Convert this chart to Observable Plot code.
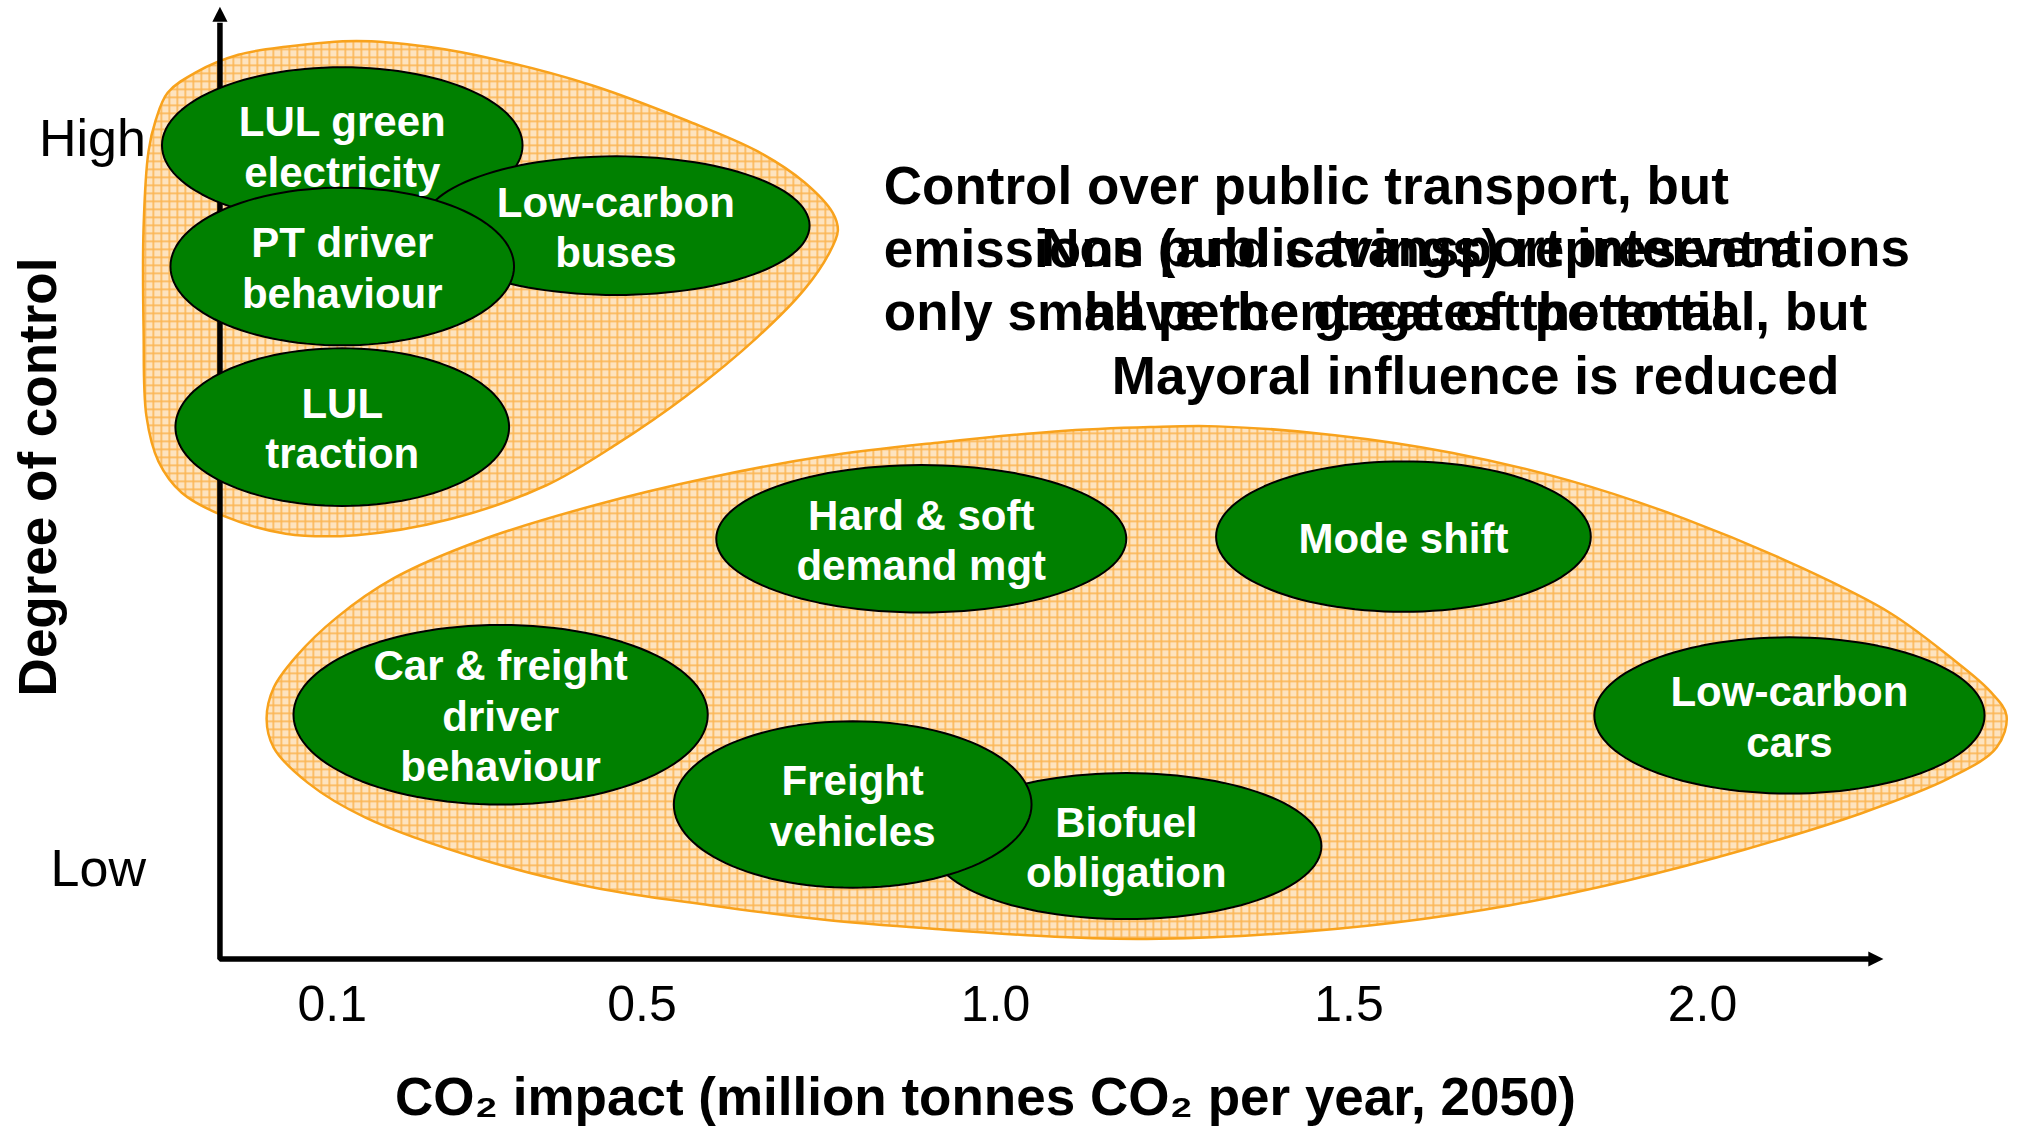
<!DOCTYPE html>
<html>
<head>
<meta charset="utf-8">
<script src="https://cdn.jsdelivr.net/npm/d3@7"></script>
<script src="https://cdn.jsdelivr.net/npm/@observablehq/plot@0.6"></script>
<style>
  html, body { margin: 0; padding: 0; background: #ffffff; }
  #chart { width: 2018px; height: 1129px; overflow: hidden; }
</style>
</head>
<body>
<svg width="0" height="0" style="position:absolute">
  <defs>
    <pattern id="hatch" width="8" height="8" patternUnits="userSpaceOnUse">
      <rect width="8" height="8" fill="#fde3bf"></rect>
      <rect width="8" height="1.6" fill="#fbb553"></rect>
      <rect width="1.6" height="8" fill="#fbb553"></rect>
    </pattern>
  </defs>
</svg>
<div id="chart"></div>
<script>
// ---------- data ----------
const measures = [
  "LUL green\nelectricity",
  "Low-carbon\nbuses",
  "PT driver\nbehaviour",
  "LUL\ntraction",
  "Hard & soft\ndemand mgt",
  "Mode shift",
  "Car & freight\ndriver\nbehaviour",
  "Biofuel\nobligation",
  "Freight\nvehicles",
  "Low-carbon\ncars"
];
// centre of each bubble: CO2 impact (Mt CO2 / yr, 2050) and degree of control (Low = 0, High = 10)
const co2Impact    = [0.076, 0.463, 0.076, 0.076, 0.895, 1.577, 0.300, 1.185, 0.798, 2.123];
const controlLevel = [9.92, 8.82, 8.26, 6.06, 4.53, 4.56, 2.12, 0.32, 0.89, 2.11];
// half-extent of each bubble along each axis
const co2Spread     = [0.255, 0.274, 0.243, 0.236, 0.290, 0.265, 0.293, 0.276, 0.253, 0.276];
const controlSpread = [1.07, 0.95, 1.08, 1.08, 1.01, 1.03, 1.23, 1.00, 1.14, 1.07];

const xTickValues = [0.1, 0.5, 1.0, 1.5, 2.0];
const xTickLabels = ["0.1", "0.5", "1.0", "1.5", "2.0"];
const yTickValues = [10, 0];
const yTickLabels = ["High", "Low"];

// outline of the "public transport" zone [co2, control]
const publicTransportZone = [
  [-0.188, 10.26], [-0.171, 10.64], [-0.131, 10.92], [-0.071, 11.16], [-0.004, 11.27],
  [0.096, 11.35], [0.197, 11.27], [0.296, 11.09], [0.430, 10.74], [0.563, 10.26],
  [0.663, 9.84], [0.730, 9.41], [0.770, 8.99], [0.777, 8.75], [0.764, 8.43],
  [0.730, 7.95], [0.663, 7.29], [0.563, 6.49], [0.463, 5.82], [0.364, 5.26],
  [0.229, 4.80], [0.096, 4.58], [-0.004, 4.60], [-0.091, 4.84], [-0.151, 5.16],
  [-0.184, 5.59], [-0.201, 6.21], [-0.205, 7.38], [-0.205, 8.80], [-0.198, 9.84]
];
// outline of the "non public transport" zone [co2, control]
const otherZone = [
  [-0.031, 2.06], [-0.021, 2.49], [0.011, 2.92], [0.068, 3.45], [0.149, 3.99],
  [0.272, 4.51], [0.433, 4.99], [0.596, 5.37], [0.758, 5.66], [0.921, 5.85],
  [1.084, 6.00], [1.219, 6.06], [1.314, 6.07], [1.480, 5.95], [1.645, 5.71],
  [1.811, 5.33], [1.976, 4.80], [2.143, 4.12], [2.266, 3.51], [2.349, 2.92],
  [2.407, 2.44], [2.430, 2.11], [2.416, 1.67], [2.349, 1.25], [2.225, 0.77],
  [2.059, 0.27], [1.894, -0.15], [1.728, -0.49], [1.563, -0.73], [1.398, -0.88],
  [1.232, -0.95], [1.084, -0.92], [0.921, -0.82], [0.758, -0.69], [0.596, -0.49],
  [0.433, -0.25], [0.272, 0.14], [0.109, 0.71], [0.027, 1.19], [-0.021, 1.67]
];

const noteLeft = {
  text: "Control over public transport, but\nemissions (and savings) represent a\nonly small percentage of the total",
  co2: 0.842, control: 8.53
};
const noteRight = {
  text: "Non public transport interventions\nhave the greatest potential, but\nMayoral influence is reduced",
  co2: 1.679, control: 7.67
};

const xTitle = "CO\u2082 impact (million tonnes CO\u2082 per year, 2050)";
const yTitle = "Degree of control";

// axis frame in data units
const axisX0 = -0.097, axisY0 = -1.226;
const axisXTip = 2.256, axisYTip = 11.82;
const axisXShaft = 2.236, axisYShaft = 11.60;

// ---------- derived ----------
const N = 120;
const ellipsePoints = measures.flatMap((m, i) =>
  d3.range(N).map(k => {
    const a = 2 * Math.PI * k / N;
    return { m, x: co2Impact[i] + co2Spread[i] * Math.cos(a), y: controlLevel[i] + controlSpread[i] * Math.sin(a) };
  })
);

const arrowUp = {
  draw(ctx, size) {
    const r = Math.sqrt(size / Math.PI), h = 2.3 * r, w = 1.15 * r;
    ctx.moveTo(0, 0); ctx.lineTo(-w, h); ctx.lineTo(w, h); ctx.closePath();
  }
};
const arrowRight = {
  draw(ctx, size) {
    const r = Math.sqrt(size / Math.PI), h = 2.3 * r, w = 1.15 * r;
    ctx.moveTo(0, 0); ctx.lineTo(-h, -w); ctx.lineTo(-h, w); ctx.closePath();
  }
};

const FONT = "'Liberation Sans', Arial, Helvetica, sans-serif";

const chart = Plot.plot({
  width: 2018,
  height: 1129,
  margin: 0,
  x: { domain: [-0.4074, 2.447], axis: null },
  y: { domain: [-3.562, 11.904], axis: null },
  style: { fontFamily: FONT, background: "#ffffff", overflow: "visible" },
  marks: [
    Plot.line(publicTransportZone, { x: d => d[0], y: d => d[1], curve: "catmull-rom-closed", fill: "url(#hatch)", stroke: "#f8a21c", strokeWidth: 2.5 }),
    Plot.line(otherZone, { x: d => d[0], y: d => d[1], curve: "catmull-rom-closed", fill: "url(#hatch)", stroke: "#f8a21c", strokeWidth: 2.5 }),
    // axes
    Plot.line([[axisX0, axisYShaft], [axisX0, axisY0], [axisXShaft, axisY0]], {
      x: d => d[0], y: d => d[1], stroke: "black", strokeWidth: 5.5, strokeLinejoin: "miter", strokeLinecap: "butt"
    }),
    Plot.dot([[axisX0, axisYTip]], { x: d => d[0], y: d => d[1], symbol: arrowUp, r: 6.6, fill: "black", stroke: "none" }),
    Plot.dot([[axisXTip, axisY0]], { x: d => d[0], y: d => d[1], symbol: arrowRight, r: 6.6, fill: "black", stroke: "none" }),
    // bubbles
    Plot.line(ellipsePoints, { x: "x", y: "y", z: "m", curve: "linear-closed", fill: "#008000", stroke: "black", strokeWidth: 2 }),
    Plot.text(measures, {
      x: (d, i) => co2Impact[i], y: (d, i) => controlLevel[i], text: d => d,
      fill: "white", fontWeight: "bold", fontSize: 42, lineHeight: 1.2, lineAnchor: "middle"
    }),
    // annotations
    Plot.text([noteLeft], { x: "co2", y: "control", text: "text", textAnchor: "start", lineAnchor: "middle", fontWeight: "bold", fontSize: 53, lineHeight: 1.19, fill: "black" }),
    Plot.text([noteRight], { x: "co2", y: "control", text: "text", textAnchor: "middle", lineAnchor: "middle", fontWeight: "bold", fontSize: 53, lineHeight: 1.2, fill: "black" }),
    // tick labels
    Plot.text(xTickValues.slice(0, 1), { x: d => d, y: axisY0, text: (d, i) => xTickLabels[i], dx: -27, dy: 46, lineAnchor: "middle", fontSize: 50 }),
    Plot.text(xTickValues.slice(1), { x: d => d, y: axisY0, text: (d, i) => xTickLabels[i + 1], dy: 46, lineAnchor: "middle", fontSize: 50 }),
    Plot.text(yTickValues, { x: axisX0, y: d => d, text: (d, i) => yTickLabels[i], textAnchor: "end", dx: -74, lineAnchor: "middle", fontSize: 52 }),
    // axis titles
    Plot.text([xTitle], { frameAnchor: "bottom", text: d => d, textAnchor: "middle", dx: -24, dy: -31, lineAnchor: "middle", fontWeight: "bold", fontSize: 53 }),
    Plot.text([yTitle], { frameAnchor: "left", text: d => d, rotate: -90, textAnchor: "middle", dx: 39, dy: -88, lineAnchor: "middle", fontWeight: "bold", fontSize: 53 })
  ]
});
document.getElementById("chart").appendChild(chart);
</script>
</body>
</html>
